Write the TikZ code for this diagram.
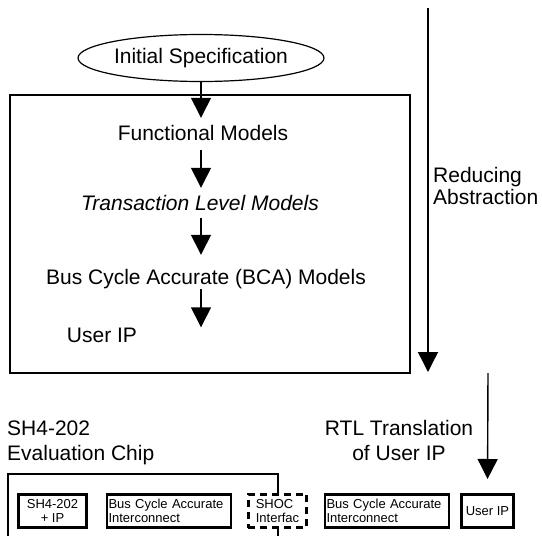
\documentclass[tikz,border=0pt]{standalone}
\usepackage{fontspec}
\setmainfont{Liberation Sans}
\usetikzlibrary{positioning,arrows.meta,shapes.geometric}

\begin{document}
\begin{tikzpicture}[x=1pt, y=-1pt,
  every node/.style={font=\fontsize{21}{24}\selectfont},
  >={Triangle[length=20pt, width=20pt]},
  flow/.style={->, line width=1.4pt},
  level/.style={inner sep=0pt, text height=15pt, text depth=4.5pt, anchor=base},
  part/.style={draw, line width=2.6pt, minimum height=33.4pt, inner sep=1pt,
    font=\fontsize{13}{13.5}\selectfont, align=center},
  bus/.style={part, text width=121pt, inner xsep=1.5pt, align=left}]
  \useasboundingbox (0,0) rectangle (542,536);
  % abstraction levels
  \node[draw, ellipse, line width=1.2pt, minimum width=234pt, minimum height=47pt, inner sep=0pt] (spec) at (201,58) {Initial Specification};
  \node[draw, line width=1.4pt, minimum width=400pt, minimum height=278pt] (models) at (210,234) {};
  \node[level] (func) at (203,140.5) {Functional Models};
  \node[level] (tlm) at (200,210.5) {\itshape Transaction Level Models};
  \node[level] (bca) at (206,284.5) {Bus Cycle Accurate (BCA) Models};
  \node[level] (ip) at (102,342.5) {User IP};
  \draw[flow, shorten >=7.5pt] (spec) -- (spec.south |- func.north);
  \draw[flow, shorten <=5pt, shorten >=7.5pt] (func.south -| spec) -- (tlm.north -| spec);
  \draw[flow, shorten <=3pt, shorten >=14.5pt] (tlm.south -| spec) -- (bca.north -| spec);
  \draw[flow] (bca.south -| spec) -- (ip.north -| spec);
  % reducing abstraction
  \coordinate (redtop) at (428,8);
  \coordinate (redend) at (428,372);
  \draw[flow] (redtop) -- (redend);
  \node[anchor=west, align=left, inner sep=0pt] (reduce) at (433,186) {Reducing\\[-2pt]Abstraction};
  % evaluation chip and RTL
  \node[anchor=north west, align=left, inner sep=0pt] (chip) at (7,420.5) {SH4-202\\[1pt]Evaluation Chip};
  \node[align=center, inner sep=0pt] (rtl) at (399,440) {RTL Translation\\[1pt]of User IP};
  \draw[line width=2pt] (8,536) |- (278,474) -- (278,536);
  \node[part, minimum width=68.4pt] (core) at (52.5,511) {SH4-202\\+ IP};
  \node[bus] (bus1) at (169,511) {Bus Cycle Accurate\\Interconnect};
  \node[part, dash pattern=on 7pt off 5pt, fill=white, minimum width=58.4pt, align=left] (shoc) at (277.5,511) {SHOC\\Interfac};
  \node[bus] (bus2) at (387,511) {Bus Cycle Accurate\\Interconnect};
  \node[part, minimum width=52.4pt] (uipbox) at (487.5,511) {User IP};
  \coordinate (rtltop) at (488,373);
  \draw[flow, shorten >=14pt] (rtltop) -- (uipbox.north);
\end{tikzpicture}
\end{document}
